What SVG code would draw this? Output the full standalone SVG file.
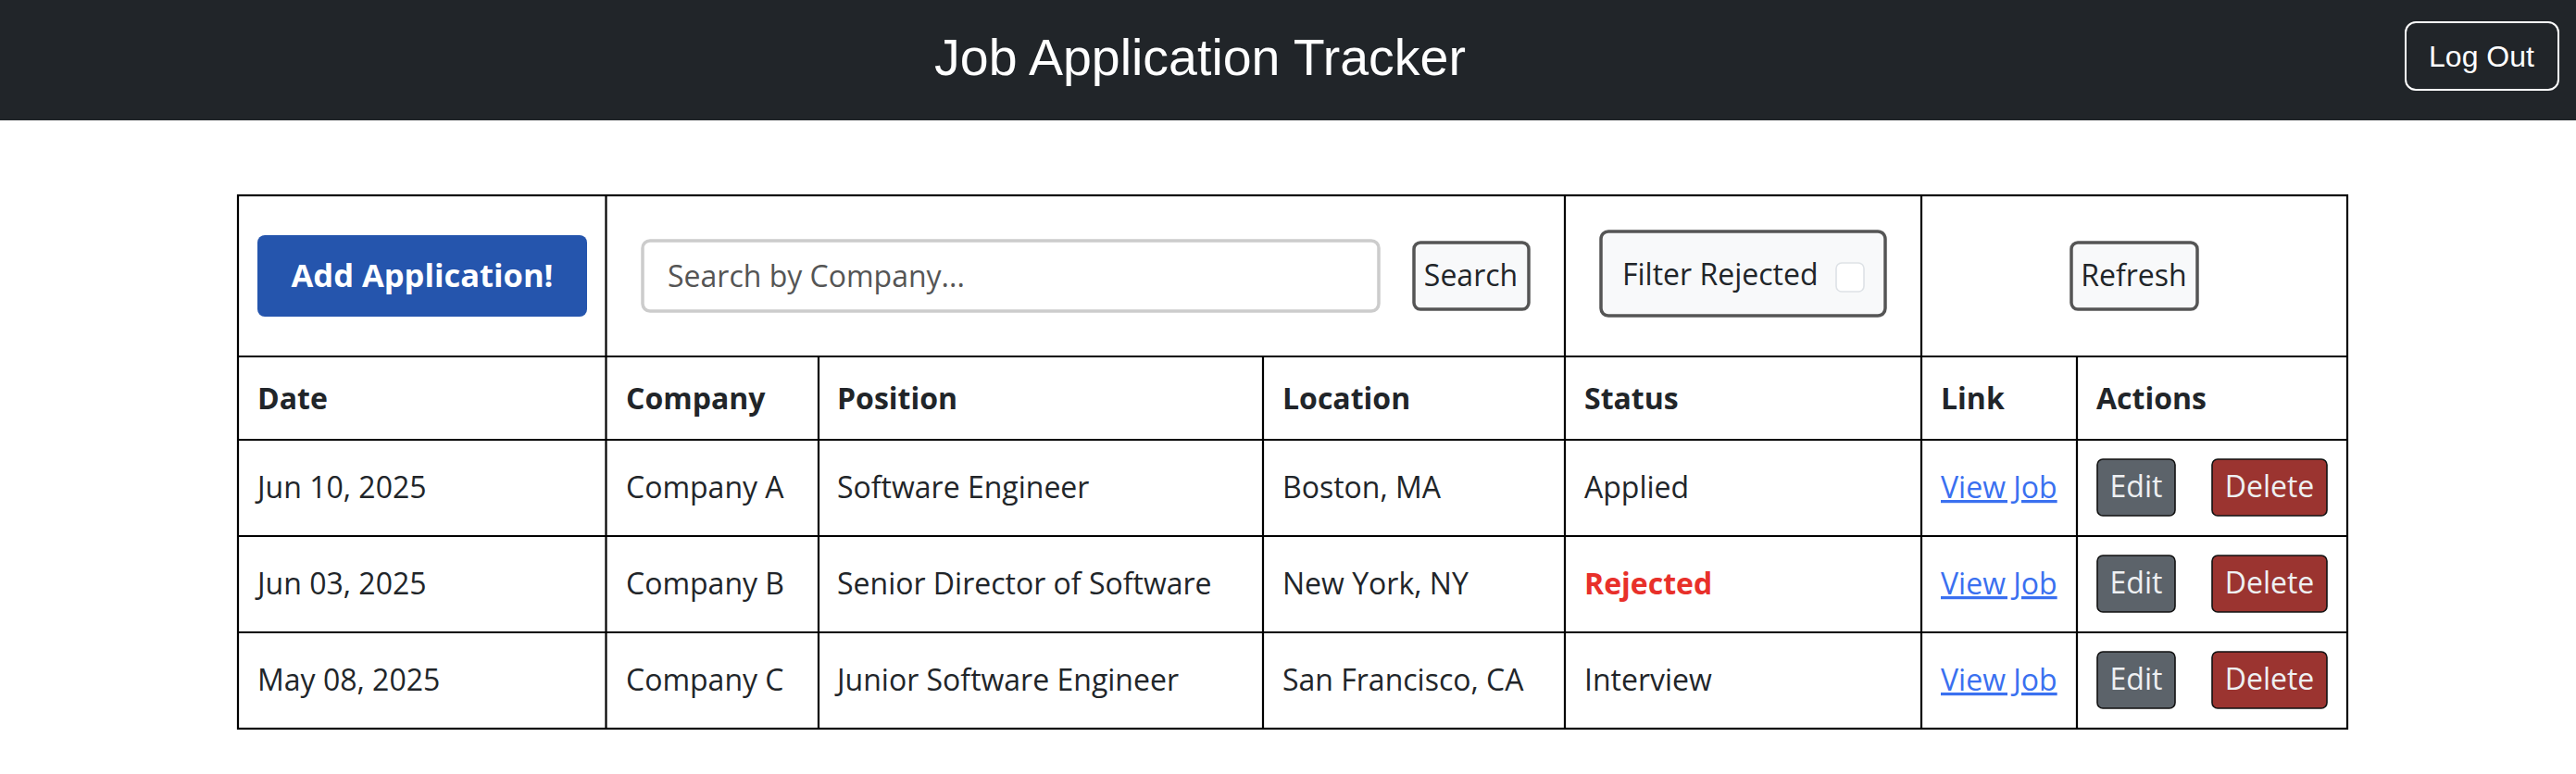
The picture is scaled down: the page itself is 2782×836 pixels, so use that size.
<svg xmlns="http://www.w3.org/2000/svg" width="2782" height="836" viewBox="0 0 2782 836">
<style>
.t{font-family:"Open Sans","Noto Sans",sans-serif;font-size:32px;fill:#212529}
.b{font-weight:bold}
.c{text-anchor:middle}
.line{stroke:#000;stroke-width:2.2;fill:none}
.btn{fill:#f8f9fa;stroke:#555;stroke-width:3.5}
.edit{fill:#5c636a;stroke:#111;stroke-width:1.6}
.del{fill:#9b3430;stroke:#111;stroke-width:1.6}
.bt{font-family:"Open Sans","Noto Sans",sans-serif;font-size:32px;fill:#eef0f2;text-anchor:middle}
.link{font-family:"Open Sans","Noto Sans",sans-serif;font-size:32px;fill:#3a70f0;text-decoration:underline}
</style>
<rect x="0" y="0" width="2782" height="836" fill="#fff"/>
<g id="header">
<rect x="0" y="0" width="2782" height="130" fill="#212529"/>
<text x="1296" y="81" font-family="'Liberation Sans',Arial,sans-serif" font-size="55.5" fill="#fff" text-anchor="middle">Job Application Tracker</text>
</g>
<g id="logout">
<rect x="2598" y="24" width="165" height="73" rx="11" fill="none" stroke="#fff" stroke-width="2"/>
<text x="2680" y="72" font-family="'Liberation Sans',Arial,sans-serif" font-size="32" fill="#fff" text-anchor="middle">Log Out</text>
</g>
<g id="table-grid">
<rect class="line" x="257" y="211" width="2278" height="576"/>
<line class="line" x1="257" y1="385" x2="2535" y2="385"/>
<line class="line" x1="257" y1="475" x2="2535" y2="475"/>
<line class="line" x1="257" y1="579" x2="2535" y2="579"/>
<line class="line" x1="257" y1="683" x2="2535" y2="683"/>
<line class="line" x1="654.5" y1="211" x2="654.5" y2="787"/>
<line class="line" x1="1690" y1="211" x2="1690" y2="787"/>
<line class="line" x1="2075" y1="211" x2="2075" y2="787"/>
<line class="line" x1="884" y1="385" x2="884" y2="787"/>
<line class="line" x1="1364" y1="385" x2="1364" y2="787"/>
<line class="line" x1="2243" y1="385" x2="2243" y2="787"/>
</g>
<g id="add-application">
<rect x="278" y="254" width="356" height="88" rx="8" fill="#2555ad"/>
<text class="t b c" x="456" y="310" font-size="34.5" style="font-size:34.5px;fill:#fff">Add Application!</text>
</g>
<g id="search-input">
<rect x="694" y="260" width="795" height="76" rx="8" fill="#fff" stroke="#cccccc" stroke-width="3.5"/>
<text class="t" x="721" y="310" style="fill:#555">Search by Company...</text>
</g>
<g id="search-button">
<rect class="btn" x="1527" y="262" width="124" height="72" rx="7"/>
<text class="t c" x="1588.5" y="309">Search</text>
</g>
<g id="filter-rejected">
<rect class="btn" x="1729" y="250" width="307" height="91" rx="8"/>
<text class="t" x="1752" y="308">Filter Rejected</text>
<rect x="1983" y="284" width="30" height="31" rx="6" fill="#fff" stroke="#dee2e6" stroke-width="1.6"/>
</g>
<g id="refresh">
<rect class="btn" x="2237" y="262" width="136" height="72" rx="7"/>
<text class="t c" x="2304.5" y="309">Refresh</text>
</g>
<g id="column-headers">
<text class="t b" x="278" y="442">Date</text>
<text class="t b" x="676" y="442">Company</text>
<text class="t b" x="904" y="442">Position</text>
<text class="t b" x="1385" y="442">Location</text>
<text class="t b" x="1711" y="442">Status</text>
<text class="t b" x="2096" y="442">Link</text>
<text class="t b" x="2264" y="442">Actions</text>
</g>
<g id="row-1">
<text class="t" x="278" y="538">Jun 10, 2025</text>
<text class="t" x="676" y="538">Company A</text>
<text class="t" x="904" y="538">Software Engineer</text>
<text class="t" x="1385" y="538">Boston, MA</text>
<text class="t" x="1711" y="538">Applied</text>
<text class="link" x="2096" y="538">View Job</text>
<rect class="edit" x="2265" y="496" width="84" height="61" rx="6"/>
<text class="bt" x="2307" y="537">Edit</text>
<rect class="del" x="2389" y="496" width="124" height="61" rx="6"/>
<text class="bt" x="2451" y="537">Delete</text>
</g>
<g id="row-2">
<text class="t" x="278" y="642">Jun 03, 2025</text>
<text class="t" x="676" y="642">Company B</text>
<text class="t" x="904" y="642">Senior Director of Software</text>
<text class="t" x="1385" y="642">New York, NY</text>
<text class="t b" x="1711" y="642" style="fill:#e8302a">Rejected</text>
<text class="link" x="2096" y="642">View Job</text>
<rect class="edit" x="2265" y="600" width="84" height="61" rx="6"/>
<text class="bt" x="2307" y="641">Edit</text>
<rect class="del" x="2389" y="600" width="124" height="61" rx="6"/>
<text class="bt" x="2451" y="641">Delete</text>
</g>
<g id="row-3">
<text class="t" x="278" y="746">May 08, 2025</text>
<text class="t" x="676" y="746">Company C</text>
<text class="t" x="904" y="746">Junior Software Engineer</text>
<text class="t" x="1385" y="746">San Francisco, CA</text>
<text class="t" x="1711" y="746">Interview</text>
<text class="link" x="2096" y="746">View Job</text>
<rect class="edit" x="2265" y="704" width="84" height="61" rx="6"/>
<text class="bt" x="2307" y="745">Edit</text>
<rect class="del" x="2389" y="704" width="124" height="61" rx="6"/>
<text class="bt" x="2451" y="745">Delete</text>
</g>
</svg>
